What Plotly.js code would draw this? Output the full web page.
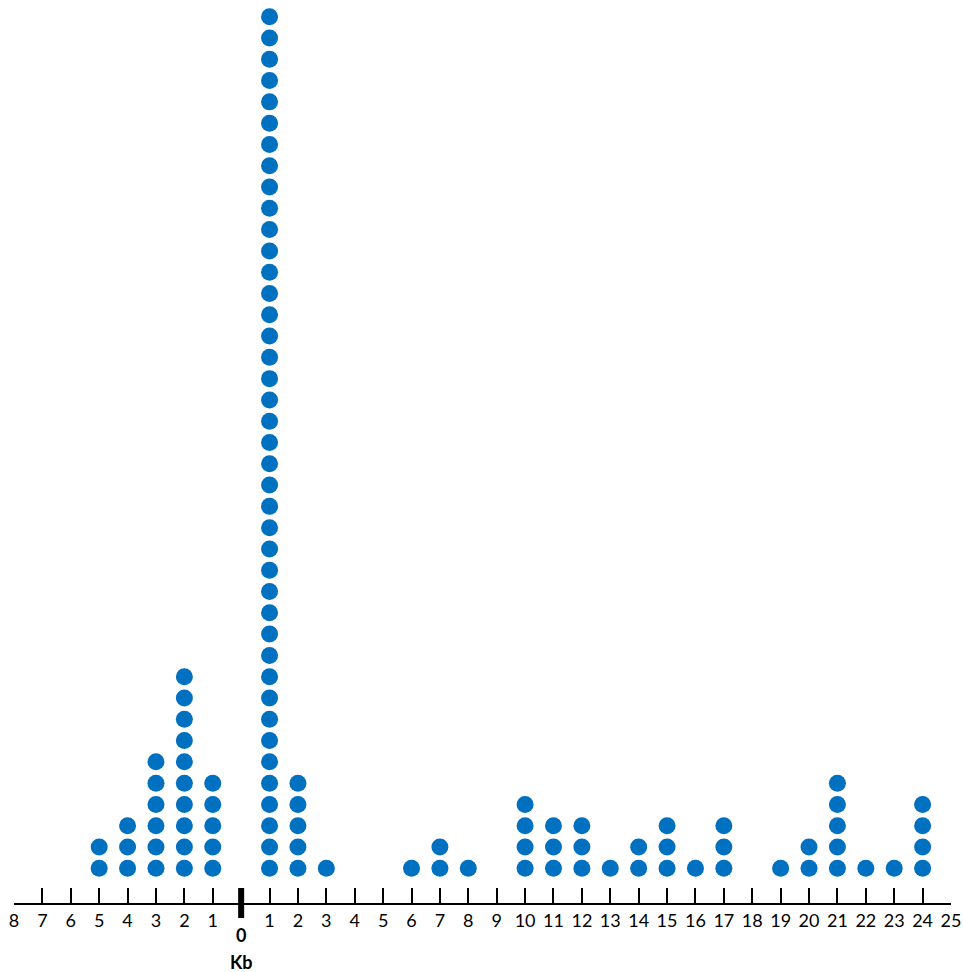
<!DOCTYPE html>
<html>
<head>
<meta charset="utf-8">
<script src="https://cdn.plot.ly/plotly-3.0.1.min.js"></script>
<style>html,body{margin:0;padding:0;background:#fff;}#chart{width:963px;height:972px;}</style>
</head>
<body>
<div id="chart"></div>
<script>
// Positions (Kb) and number of dots stacked at each position
const positions = [-5, -4, -3, -2, -1, 1, 2, 3, 6, 7, 8, 10, 11, 12, 13, 14, 15, 16, 17, 19, 20, 21, 22, 23, 24];
const counts    = [ 2,  3,  6, 10,  5, 41, 5, 1, 1, 2, 1,  4,  3,  3,  1,  2,  3,  1,  3,  1,  2,  5,  1,  1,  4];
const tickValues = [-8,-7,-6,-5,-4,-3,-2,-1,1,2,3,4,5,6,7,8,9,10,11,12,13,14,15,16,17,18,19,20,21,22,23,24,25];
const tickLabels = ["8","7","6","5","4","3","2","1","1","2","3","4","5","6","7","8","9","10","11","12","13","14","15","16","17","18","19","20","21","22","23","24","25"];
const axisTitle = "Kb";
const zeroLabel = "0";

const xs = [], ys = [];
positions.forEach((p, i) => {
  for (let k = 1; k <= counts[i]; k++) { xs.push(p); ys.push(k); }
});

const trace = {
  x: xs, y: ys, type: 'scatter', mode: 'markers',
  marker: {color: '#0070C0', size: 17, line: {width: 0}},
  cliponaxis: false, hoverinfo: 'skip'
};

const layout = {
  width: 963, height: 972,
  margin: {l: 14, r: 12, t: 5, b: 69},
  paper_bgcolor: '#ffffff', plot_bgcolor: '#ffffff',
  showlegend: false,
  font: {family: 'Lato, "Open Sans", sans-serif', color: '#000', size: 18},
  xaxis: {
    range: [-8, 25], fixedrange: true,
    showgrid: false, zeroline: false,
    showline: true, linecolor: '#000', linewidth: 2,
    ticks: 'inside', ticklen: 15, tickwidth: 2, tickcolor: '#000',
    tickmode: 'array', tickvals: tickValues, ticktext: tickLabels,
    tickfont: {size: 18, color: '#000'}
  },
  yaxis: {range: [-0.63, 41.55], visible: false, fixedrange: true},
  shapes: [{
    type: 'line', xref: 'x', yref: 'paper', ysizemode: 'pixel', yanchor: 0,
    x0: 0, x1: 0, y0: -15, y1: 15, line: {color: '#000', width: 6}
  }],
  annotations: [
    {x: 0, y: 0, xref: 'x', yref: 'paper', yshift: -32, text: '<b>' + zeroLabel + '</b>',
     showarrow: false, font: {size: 18, color: '#000'}, xanchor: 'center', yanchor: 'middle'},
    {x: 0, y: 0, xref: 'x', yref: 'paper', yshift: -59, text: '<b>' + axisTitle + '</b>',
     showarrow: false, font: {size: 18, color: '#000'}, xanchor: 'center', yanchor: 'middle'}
  ]
};

Plotly.newPlot('chart', [trace], layout, {displayModeBar: false, staticPlot: true});
</script>
</body>
</html>
